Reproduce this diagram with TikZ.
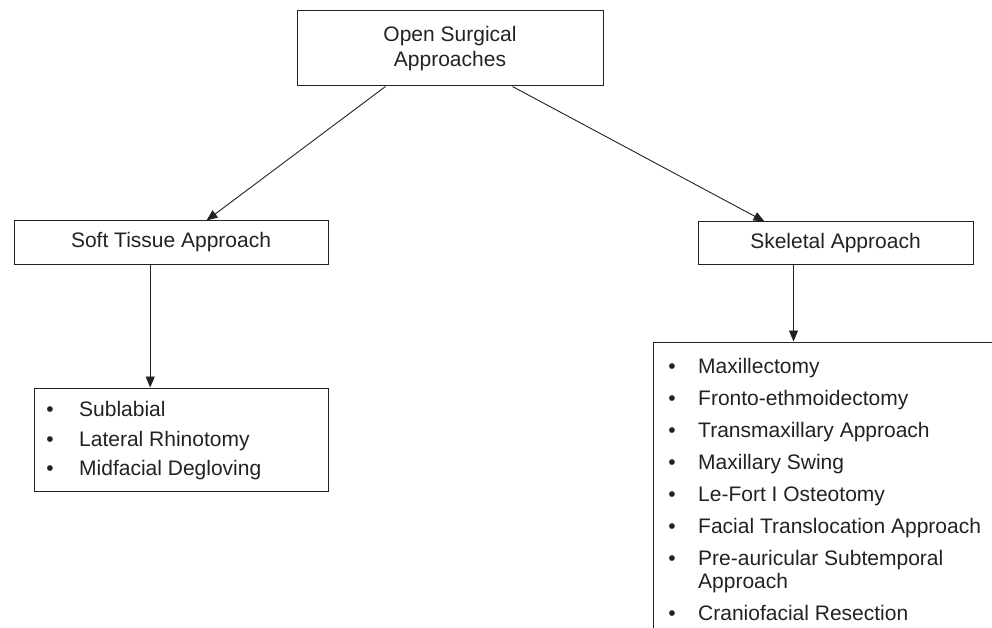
\documentclass[tikz,border=0pt]{standalone}
\usepackage{fontspec}
\setmainfont{Liberation Sans}
\usetikzlibrary{arrows.meta}
\definecolor{ink}{RGB}{34,34,34}
\begin{document}
\begin{tikzpicture}[x=1pt,y=-1pt,
  font=\fontsize{21}{25}\selectfont,
  every node/.style={text=ink},
  box/.style={draw=ink, line width=1pt, inner sep=0pt, align=center},
  conn/.style={draw=ink, line width=0.9pt, -{Triangle[length=11pt,width=9pt]}},
  item/.style={anchor=base west, inner sep=0pt},
  dot/.style={anchor=base, inner sep=0pt}]
\useasboundingbox (0,0) rectangle (992,628);
\clip (0,0) rectangle (992,628);

\node[box, minimum width=306pt, minimum height=75pt] (top) at (450,48.5) {Open Surgical\\Approaches};
\node[box, minimum width=314pt, minimum height=43pt] (soft) at (171,242.5) {Soft Tissue Approach};
\node[box, minimum width=275pt, minimum height=42pt] (skel) at (835.5,243) {Skeletal Approach};
\node[box, minimum width=294pt, minimum height=103pt] (softlist) at (181,439.5) {};
\node[box, minimum width=357pt, minimum height=308pt] (skellist) at (831.5,496) {};

\coordinate (tl) at ([xshift=89pt]top.south west);
\coordinate (tr) at ([xshift=216pt]top.south west);
\coordinate (sd) at ([xshift=136.7pt]soft.south west);
\coordinate (kd) at ([xshift=96pt]skel.south west);
\draw[conn] (tl) -- ([xshift=193pt]soft.north west);
\draw[conn] (tr) -- ([xshift=67pt]skel.north west);
\draw[conn] (sd) -- (sd |- softlist.north);
\draw[conn] (kd) -- (kd |- skellist.north);

% soft tissue list
\node[dot] (sb1) at (50,416) {•};
\node[item] (si1) at (79,416) {Sublabial};
\node[dot] (sb2) at (50,446) {•};
\node[item] (si2) at (79,446) {Lateral Rhinotomy};
\node[dot] (sb3) at (50,475) {•};
\node[item] (si3) at (79,475) {Midfacial Degloving};

% skeletal list
\node[dot] (kb1) at (672,373) {•};
\node[item] (ki1) at (698,373) {Maxillectomy};
\node[dot] (kb2) at (672,405) {•};
\node[item] (ki2) at (698,405) {Fronto-ethmoidectomy};
\node[dot] (kb3) at (672,437) {•};
\node[item] (ki3) at (698,437) {Transmaxillary Approach};
\node[dot] (kb4) at (672,469) {•};
\node[item] (ki4) at (698,469) {Maxillary Swing};
\node[dot] (kb5) at (672,501) {•};
\node[item] (ki5) at (698,501) {Le-Fort I Osteotomy};
\node[dot] (kb6) at (672,533) {•};
\node[item] (ki6) at (698,533) {Facial Translocation Approach};
\node[dot] (kb7) at (672,565) {•};
\node[item] (ki7) at (698,565) {Pre-auricular Subtemporal};
\node[item] (ki7b) at (698,588) {Approach};
\node[dot] (kb8) at (672,620) {•};
\node[item] (ki8) at (698,620) {Craniofacial Resection};
\end{tikzpicture}
\end{document}
